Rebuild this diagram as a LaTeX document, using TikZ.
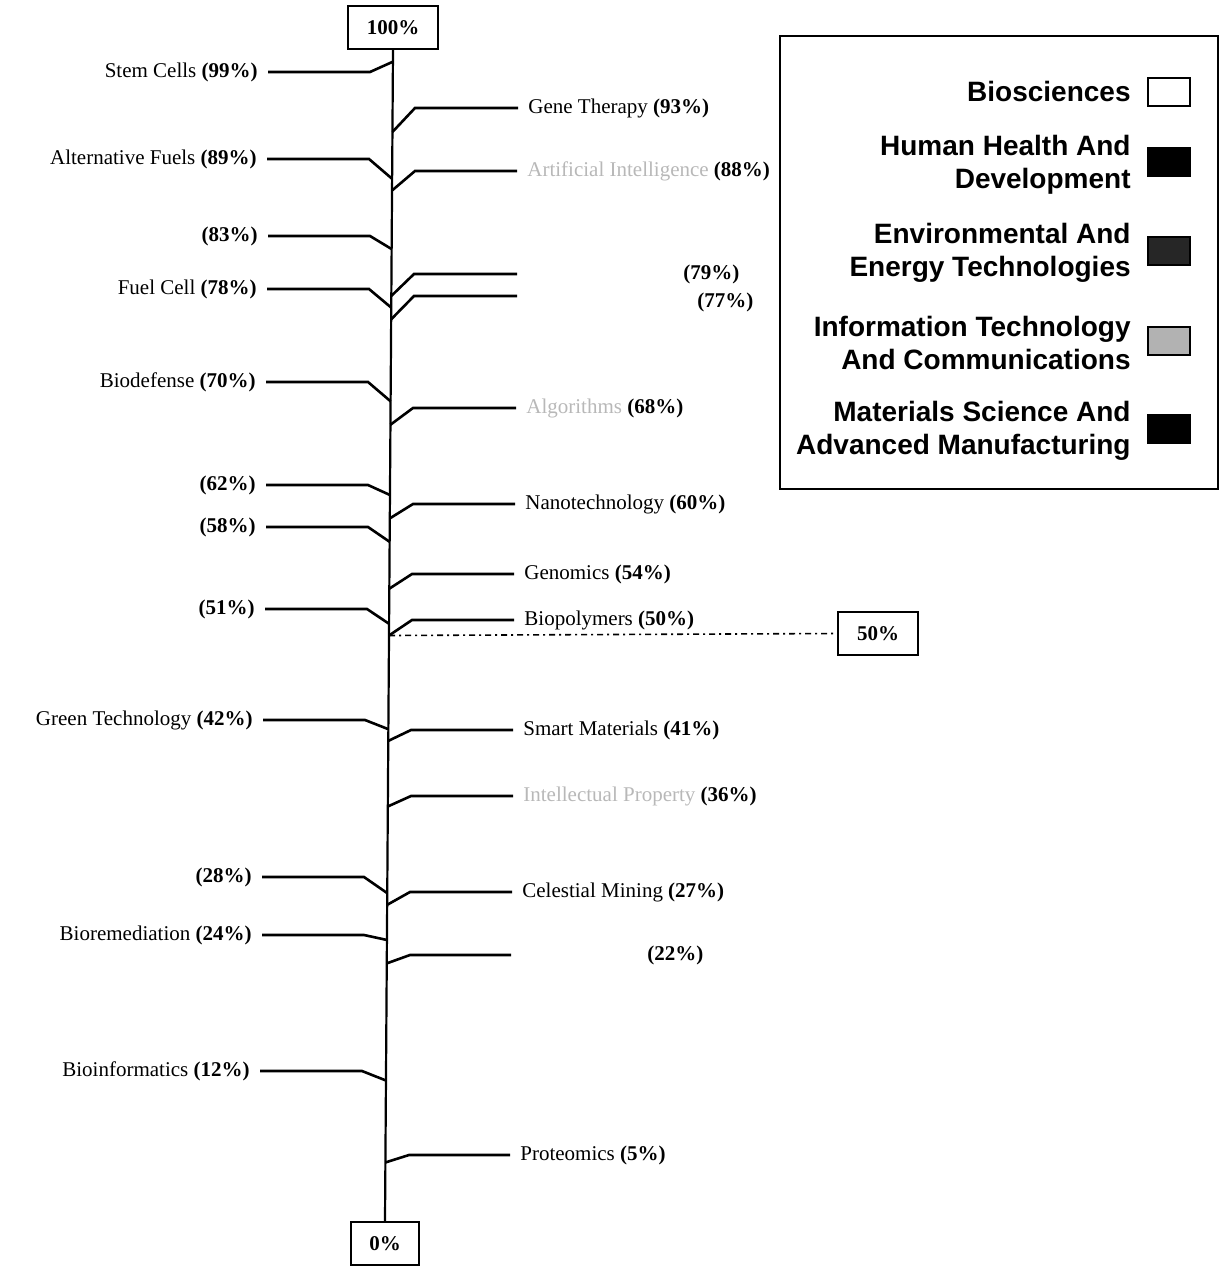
\documentclass[tikz,border=0pt]{standalone}
\usepackage{fontspec}
\setmainfont{Liberation Serif}
\newfontfamily\legfont{Liberation Sans}
\usetikzlibrary{calc}
\colorlet{faintgray}{black!28}
\newcommand{\pct}[1]{\textbf{(#1\%)}}

\begin{document}
\begin{tikzpicture}[x=0.5pt, y=-0.5pt,
    lbl/.style={inner xsep=5pt, inner ysep=0pt, font=\fontsize{10.5}{12}\selectfont},
    con/.style={line width=1.3pt},
    pbox/.style={draw, line width=1pt, minimum height=21.5pt, inner sep=0pt, font=\bfseries\fontsize{10.5}{12}\selectfont},
    leg/.style={anchor=east, align=right, inner sep=0pt, font=\legfont\bfseries\fontsize{14}{16.5}\selectfont},
    swatch/.style={draw, line width=0.8pt, minimum width=21pt, minimum height=14pt, inner sep=0pt}]
    \useasboundingbox (0,0) rectangle (1220,1268);

    % scale
    \node[pbox, minimum width=45pt] (top) at (393,27.5) {100\%};
    \node[pbox, minimum width=34pt] (bottom) at (385,1243.5) {0\%};
    \node[pbox, minimum width=40pt] (half) at (878,633.5) {50\%};
    \draw[line width=1.1pt] (top.south) -- (bottom.north);
    \draw[line width=0.8pt, dash pattern=on 3pt off 2pt on 1pt off 2pt]
        ($(top.south)!.5!(bottom.north)$) -- (half.west);

    % left side
    \node[lbl, anchor=east] (stem) at (268,72) {Stem Cells \pct{99}};
    \draw[con] (stem.east) -- ++(102,0) -- ($(top.south)!.01!(bottom.north)$);
    \node[lbl, anchor=east] (fuels) at (267,159) {Alternative Fuels \pct{89}};
    \draw[con] (fuels.east) -- ++(102,0) -- ($(top.south)!.11!(bottom.north)$);
    \node[lbl, anchor=east] (l83) at (268,236) {\pct{83}};
    \draw[con] (l83.east) -- ++(102,0) -- ($(top.south)!.17!(bottom.north)$);
    \node[lbl, anchor=east] (cell) at (267,289) {Fuel Cell \pct{78}};
    \draw[con] (cell.east) -- ++(102,0) -- ($(top.south)!.22!(bottom.north)$);
    \node[lbl, anchor=east] (biodef) at (266,382) {Biodefense \pct{70}};
    \draw[con] (biodef.east) -- ++(102,0) -- ($(top.south)!.30!(bottom.north)$);
    \node[lbl, anchor=east] (l62) at (266,485) {\pct{62}};
    \draw[con] (l62.east) -- ++(102,0) -- ($(top.south)!.38!(bottom.north)$);
    \node[lbl, anchor=east] (l58) at (266,527) {\pct{58}};
    \draw[con] (l58.east) -- ++(102,0) -- ($(top.south)!.42!(bottom.north)$);
    \node[lbl, anchor=east] (l51) at (265,609) {\pct{51}};
    \draw[con] (l51.east) -- ++(102,0) -- ($(top.south)!.49!(bottom.north)$);
    \node[lbl, anchor=east] (green) at (263,720) {Green Technology \pct{42}};
    \draw[con] (green.east) -- ++(102,0) -- ($(top.south)!.58!(bottom.north)$);
    \node[lbl, anchor=east] (l28) at (262,877) {\pct{28}};
    \draw[con] (l28.east) -- ++(102,0) -- ($(top.south)!.72!(bottom.north)$);
    \node[lbl, anchor=east] (biorem) at (262,935) {Bioremediation \pct{24}};
    \draw[con] (biorem.east) -- ++(102,0) -- ($(top.south)!.76!(bottom.north)$);
    \node[lbl, anchor=east] (bioinf) at (260,1071) {Bioinformatics \pct{12}};
    \draw[con] (bioinf.east) -- ++(102,0) -- ($(top.south)!.88!(bottom.north)$);

    % right side
    \node[lbl, anchor=west] (gene) at (518,108) {Gene Therapy \pct{93}};
    \draw[con] ($(top.south)!.07!(bottom.north)$) -- (415,108) -- (gene.west);
    \node[lbl, anchor=west] (ai) at (517,171) {\textcolor{faintgray}{Artificial Intelligence} \pct{88}};
    \draw[con] ($(top.south)!.12!(bottom.north)$) -- (415,171) -- (ai.west);
    \coordinate (e79) at (517,274);
    \node[lbl, anchor=west] (r79) at (673,274) {\pct{79}};
    \draw[con] ($(top.south)!.21!(bottom.north)$) -- (414,274) -- (e79);
    \coordinate (e77) at (517,296);
    \node[lbl, anchor=west] (r77) at (687,302) {\pct{77}};
    \draw[con] ($(top.south)!.23!(bottom.north)$) -- (414,296) -- (e77);
    \node[lbl, anchor=west] (algo) at (516,408) {\textcolor{faintgray}{Algorithms} \pct{68}};
    \draw[con] ($(top.south)!.32!(bottom.north)$) -- (413,408) -- (algo.west);
    \node[lbl, anchor=west] (nano) at (515,504) {Nanotechnology \pct{60}};
    \draw[con] ($(top.south)!.40!(bottom.north)$) -- (413,504) -- (nano.west);
    \node[lbl, anchor=west] (genom) at (514,574) {Genomics \pct{54}};
    \draw[con] ($(top.south)!.46!(bottom.north)$) -- (412,574) -- (genom.west);
    \node[lbl, anchor=west] (biopol) at (514,620) {Biopolymers \pct{50}};
    \draw[con] ($(top.south)!.50!(bottom.north)$) -- (412,620) -- (biopol.west);
    \node[lbl, anchor=west] (smart) at (513,730) {Smart Materials \pct{41}};
    \draw[con] ($(top.south)!.59!(bottom.north)$) -- (411,730) -- (smart.west);
    \node[lbl, anchor=west] (ip) at (513,796) {\textcolor{faintgray}{Intellectual Property} \pct{36}};
    \draw[con] ($(top.south)!.646!(bottom.north)$) -- (411,796) -- (ip.west);
    \node[lbl, anchor=west] (mining) at (512,892) {Celestial Mining \pct{27}};
    \draw[con] ($(top.south)!.73!(bottom.north)$) -- (410,892) -- (mining.west);
    \coordinate (e22) at (511,955);
    \node[lbl, anchor=west] (r22) at (637,955) {\pct{22}};
    \draw[con] ($(top.south)!.78!(bottom.north)$) -- (410,955) -- (e22);
    \node[lbl, anchor=west] (prot) at (510,1155) {Proteomics \pct{5}};
    \draw[con] ($(top.south)!.95!(bottom.north)$) -- (409,1155) -- (prot.west);

    % legend
    \node[draw, line width=1pt, minimum width=219pt, minimum height=226.5pt, inner sep=0pt] (legend) at (999,262.5) {};
    \node[leg] (bio) at (1131,91) {Biosciences};
    \node[swatch, fill=white] (sbio) at (1169,92) {};
    \node[leg] (health) at (1131,165) {Human Health And\\Development};
    \node[swatch, fill=black] (shealth) at (1169,162) {};
    \node[leg] (env) at (1131,253) {Environmental And\\Energy Technologies};
    \node[swatch, fill=black!85] (senv) at (1169,251) {};
    \node[leg] (it) at (1131,343) {Information Technology\\And Communications};
    \node[swatch, fill=black!30] (sit) at (1169,341) {};
    \node[leg] (mat) at (1131,431) {Materials Science And\\Advanced Manufacturing};
    \node[swatch, fill=black] (smat) at (1169,429) {};
\end{tikzpicture}
\end{document}
